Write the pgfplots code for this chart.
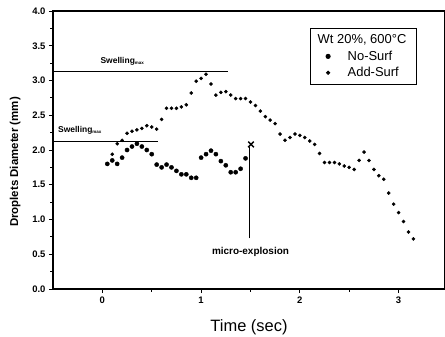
\documentclass[border=0pt]{standalone}
\usepackage{pgfplots}
\pgfplotsset{compat=1.18}
\usepackage{fontspec}
\setmainfont{Liberation Sans}
\begin{document}
\begin{tikzpicture}
\begin{axis}[
 scale only axis, width=392bp, height=278bp,
 xmin=-0.5, xmax=3.47, ymin=0, ymax=4,
 axis line style={line width=1.1pt},
 xtick={0,1,2,3}, minor xtick={0.5,1.5,2.5},
 ytick={0,0.5,1,1.5,2,2.5,3,3.5,4},
 minor ytick={0.25,0.75,1.25,1.75,2.25,2.75,3.25,3.75},
 xtick pos=left, ytick pos=left, tick align=outside,
 major tick length=4bp, minor tick length=2.5bp,
 tick style={line width=0.9pt, black},
 /pgf/number format/assume math mode=true,
 ticklabel style={font=\fontsize{9.5}{11}\selectfont\bfseries},
 yticklabel style={/pgf/number format/fixed, /pgf/number format/fixed zerofill, /pgf/number format/precision=1},
 xlabel={Time (sec)}, ylabel={Droplets Diameter (mm)},
 xlabel style={font=\fontsize{16.5}{18}\selectfont, yshift=-10bp},
 ylabel style={font=\fontsize{11.5}{13}\selectfont\bfseries, yshift=5bp, xshift=-12bp},
 legend style={at={(0.656,0.939)}, anchor=north west, draw=black, line width=0.9pt,
   font=\fontsize{13}{15}\selectfont, inner xsep=9bp, inner ysep=5bp, row sep=2.5bp,
   nodes={inner sep=1.5bp}},
 legend cell align=left,
]
\addlegendimage{empty legend}
\addlegendentry{\hspace{-14bp}Wt 20\%, 600°C}
\addplot[only marks, mark=*, mark size=2.1bp, black] coordinates {
(0.05,1.80) (0.10,1.85) (0.15,1.80) (0.20,1.89) (0.25,2.00) (0.30,2.05) (0.35,2.09)
(0.40,2.05) (0.45,2.00) (0.50,1.94) (0.55,1.79) (0.60,1.75) (0.65,1.79) (0.70,1.75)
(0.75,1.70) (0.80,1.65) (0.85,1.65) (0.90,1.60) (0.95,1.60)
(1.00,1.89) (1.05,1.94) (1.10,1.99) (1.15,1.94) (1.20,1.84) (1.25,1.78) (1.30,1.68)
(1.35,1.68) (1.40,1.73) (1.45,1.88)
};
\addlegendentry{\hspace{16bp}No-Surf}
\addplot[only marks, mark=*, mark size=1.6bp, black] coordinates {
(0.10,1.94) (0.15,2.09) (0.20,2.14) (0.25,2.24) (0.30,2.27) (0.35,2.29) (0.40,2.31)
(0.45,2.35) (0.50,2.33) (0.55,2.30) (0.60,2.44) (0.65,2.60) (0.70,2.60) (0.75,2.60)
(0.80,2.62) (0.85,2.65) (0.90,2.82) (0.95,2.99) (1.00,3.03) (1.05,3.09) (1.10,2.95)
(1.15,2.79) (1.20,2.83) (1.25,2.84) (1.30,2.79) (1.35,2.74) (1.40,2.74) (1.45,2.74)
(1.50,2.69) (1.55,2.64) (1.60,2.56) (1.65,2.48) (1.70,2.43) (1.75,2.38) (1.80,2.23)
(1.85,2.14) (1.90,2.18) (1.95,2.23) (2.00,2.21) (2.05,2.18) (2.10,2.13) (2.15,2.08)
(2.20,1.95) (2.25,1.82) (2.30,1.82) (2.35,1.82) (2.40,1.80) (2.45,1.77) (2.50,1.75)
(2.55,1.72) (2.60,1.85) (2.65,1.97) (2.70,1.85) (2.75,1.72) (2.80,1.63) (2.85,1.58)
(2.90,1.38) (2.95,1.22) (3.00,1.10) (3.05,0.97) (3.10,0.82) (3.15,0.72)
};
\addlegendentry{\hspace{16bp}Add-Surf}
\addplot[black, line width=0.8pt, forget plot] coordinates {(-0.5,3.13) (1.27,3.13)};
\addplot[black, line width=0.8pt, forget plot] coordinates {(-0.5,2.12) (0.56,2.12)};
\addplot[black, line width=0.8pt, forget plot] coordinates {(1.49,0.73) (1.49,2.05)};
\addplot[only marks, mark=x, mark size=4bp, line width=1.4pt, black, forget plot] coordinates {(1.505,2.08)};
\node[anchor=base west, font=\fontsize{8.5}{10}\selectfont\bfseries, inner sep=0pt] at (axis cs:-0.02,3.25) {Swelling\textsubscript{\fontsize{4.5}{5}\selectfont max}};
\node[anchor=base west, font=\fontsize{8.5}{10}\selectfont\bfseries, inner sep=0pt] at (axis cs:-0.45,2.245) {Swelling\textsubscript{\fontsize{4.5}{5}\selectfont max}};
\node[font=\fontsize{10}{11}\selectfont\bfseries, inner sep=0pt] at (axis cs:1.50,0.54) {micro-explosion};
\end{axis}
\pgfresetboundingbox
\path ([shift={(-53bp,-48bp)}]current axis.south west) rectangle ([shift={(0bp,11bp)}]current axis.north east);
\end{tikzpicture}
\end{document}
